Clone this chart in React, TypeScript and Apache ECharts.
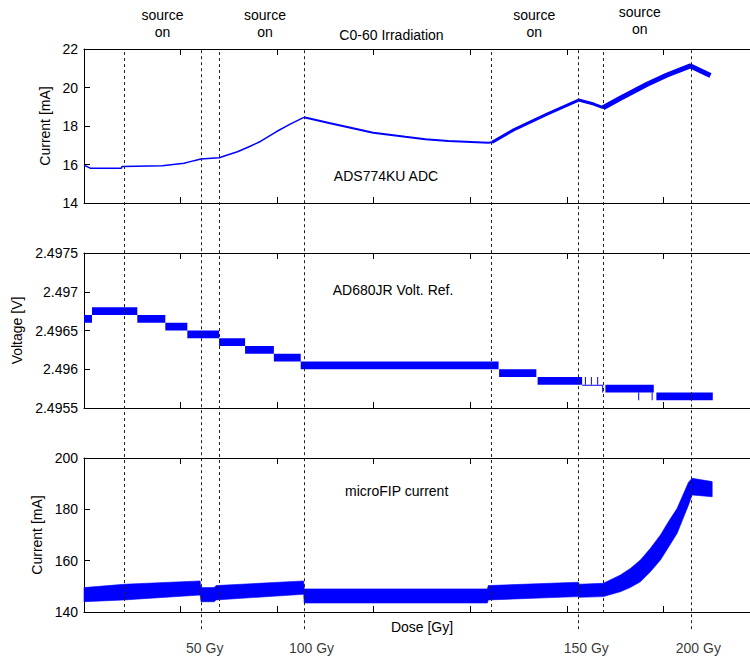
import React, { useEffect, useRef } from "react";
import * as echarts from "echarts";

const FONT = '"Liberation Sans", Arial, Helvetica, sans-serif';
const BLUE = "#0000ff";
const INK = "#000000";

// shared time-like x axis (arbitrary units)
const X_MIN = 0;
const X_MAX = 700;
const X_STEP = 100;

// ---- top panel: ADS774KU ADC current [mA]
const topX = [0, 6.9, 38.7, 39.4, 81.1, 103.6, 114, 120.9, 139.9, 148.5, 158.9, 172.7, 183.1, 199, 213.5, 227.7, 254.9, 299.5, 332.6, 353.4, 377.2, 418.7, 422.5, 444.9, 479.5, 512.2, 527.8, 537.5, 555.4, 583.1, 603.8, 628, 648.7];
const topY = [15.97, 15.8, 15.8, 15.89, 15.93, 16.06, 16.2, 16.29, 16.35, 16.49, 16.66, 16.96, 17.21, 17.7, 18.1, 18.45, 18.14, 17.65, 17.44, 17.31, 17.22, 17.13, 17.15, 17.8, 18.62, 19.35, 19.14, 18.95, 19.44, 20.17, 20.65, 21.12, 20.62];
const topSegments = [[0, 15], [15, 22], [22, 27], [27, 32]];
const topSegWidths = [1.5, 2, 3, 5];

// ---- middle panel: AD680JR reference voltage [V], quantised bands
const vStart = [0, 8.3, 55.2, 84.2, 107, 139.9, 166.8, 196.6, 224.4, 430.4, 469.7, 515.8, 539.9, 592.7];
const vEnd = [8.3, 55.2, 84.2, 107, 139.9, 166.8, 196.6, 224.4, 429.3, 468.4, 515.8, 536.5, 590, 651.1];
const vLow = [2.4966, 2.4967, 2.4966, 2.4965, 2.4964, 2.4963, 2.4962, 2.4961, 2.496, 2.4959, 2.4958, 2.4958, 2.4957, 2.4956];
const vHigh = [2.4967, 2.4968, 2.4967, 2.4966, 2.4965, 2.4964, 2.4963, 2.4962, 2.4961, 2.496, 2.4959, 2.4958, 2.4958, 2.4957];
const spikeX = [430.4, 519.2, 525.4, 531.9, 537.1, 574.4, 588.3];
const spikeLow = [2.4959, 2.4958, 2.4958, 2.4958, 2.4957, 2.4956, 2.4956];
const spikeHigh = [2.496, 2.4959, 2.4959, 2.4959, 2.4958, 2.4957, 2.4957];

// ---- bottom panel: microFIP current [mA], noisy band envelope
const bX = [0, 41.5, 120.2, 121.2, 134.7, 136.8, 227.5, 228, 417.6, 418.7, 511.9, 512.9, 537.8, 555.4, 566, 576.2, 586.5, 596.9, 605.2, 614.2, 626, 629.7, 650.5];
const bUp = [149.5, 150.8, 152.1, 149.5, 149.5, 150.3, 152.1, 149.0, 149.0, 150.3, 151.6, 150.8, 151.2, 154.4, 157.0, 160.3, 164.8, 170.0, 175.2, 180.4, 190.6, 192.1, 190.8];
const bLo = [144.0, 144.7, 146.6, 144.0, 144.0, 144.7, 146.9, 143.5, 143.5, 144.7, 146.0, 145.7, 146.0, 147.9, 149.6, 151.8, 155.7, 160.3, 165.2, 170.7, 181.7, 185.6, 184.9];

// ---- event markers (source on/off) and dose labels
const markerX = [41.5, 121.2, 139.6, 227.7, 422.1, 512.2, 537.8, 628.3];
const markerIsDose = [false, true, false, true, false, true, false, true];
const doseX = [121.2, 227.7, 512.2, 628.3];
const doseLabels = ["50 Gy", "100 Gy", "150 Gy", "200 Gy"];

const GRID_LEFT = 84;
const GRID_W = 676;

function xAxes(gridIndex: number) {
  const base = {
    type: "value",
    gridIndex,
    min: X_MIN,
    max: X_MAX,
    interval: X_STEP,
    axisLine: { show: true, onZero: false, lineStyle: { color: INK, width: 1 } },
    axisTick: { show: true, inside: true, length: 6, lineStyle: { color: INK, width: 1 } },
    axisLabel: { show: false },
    splitLine: { show: false },
  };
  return [
    { ...base, position: "bottom" },
    { ...base, position: "top" },
  ];
}

function yAxis(gridIndex: number, min: number, max: number, interval: number, name: string, nameGap: number, fmt?: (v: number) => string) {
  return {
    type: "value",
    gridIndex,
    min,
    max,
    interval,
    axisLine: { show: true, onZero: false, lineStyle: { color: INK, width: 1 } },
    axisTick: { show: true, inside: true, length: 6, lineStyle: { color: INK, width: 1 } },
    axisLabel: {
      color: INK,
      fontSize: 14,
      fontFamily: FONT,
      margin: 6,
      formatter: fmt || ((v: number) => String(v)),
    },
    splitLine: { show: false },
    name,
    nameLocation: "middle",
    nameRotate: 90,
    nameGap,
    nameTextStyle: { color: INK, fontSize: 14, fontFamily: FONT },
  };
}

function txt(text: string, x: number, y: number) {
  return {
    type: "text",
    x,
    y,
    silent: true,
    style: {
      text,
      fill: INK,
      fontSize: 14,
      fontFamily: FONT,
      align: "center",
      verticalAlign: "middle",
      textAlign: "center",
      textVerticalAlign: "middle",
    },
  };
}

export default function App() {
  const ref = useRef<HTMLDivElement>(null);

  useEffect(() => {
    if (!ref.current) return;
    const chart = echarts.init(ref.current, undefined, { renderer: "svg" });

    const topSeries = topSegments.map(([a, b], k) => ({
      type: "line",
      xAxisIndex: 0,
      yAxisIndex: 0,
      showSymbol: false,
      symbol: "none",
      lineStyle: { color: BLUE, width: topSegWidths[k] },
      data: topX.slice(a, b + 1).map((x, i) => [x, topY[a + i]]),
      z: 3,
    }));

    const gridBase = { left: GRID_LEFT, width: GRID_W, outerBoundsMode: "none", containLabel: false };

    const option: any = {
      animation: false,
      backgroundColor: "#ffffff",
      grid: [
        { ...gridBase, top: 49, height: 154 },
        { ...gridBase, top: 253, height: 155 },
        { ...gridBase, top: 458, height: 154 },
        { ...gridBase, top: 49, height: 600 },
      ],
      xAxis: [
        ...xAxes(0),
        ...xAxes(1),
        ...xAxes(2).map((a, i) =>
          i === 0
            ? {
                ...a,
                name: "Dose [Gy]",
                nameLocation: "middle",
                nameGap: 8,
                nameTextStyle: { color: INK, fontSize: 14, fontFamily: FONT, verticalAlign: "top" },
              }
            : a
        ),
        { type: "value", gridIndex: 3, min: X_MIN, max: X_MAX, show: false },
      ],
      yAxis: [
        yAxis(0, 14, 22, 2, "Current [mA]", 30),
        yAxis(1, 2.4955, 2.4975, 0.0005, "Voltage [V]", 55, (v: number) => String(Number(v.toFixed(4)))),
        yAxis(2, 140, 200, 20, "Current [mA]", 34),
        { type: "value", gridIndex: 3, min: 0, max: 100, show: false },
      ],
      series: [
        ...topSeries,
        {
          type: "custom",
          xAxisIndex: 2,
          yAxisIndex: 1,
          data: vStart.map((s, i) => [s, vEnd[i], vLow[i], vHigh[i]]),
          encode: { x: [0, 1], y: [2, 3] },
          renderItem: (params: any, api: any) => {
            const p0 = api.coord([api.value(0), api.value(3)]);
            const p1 = api.coord([api.value(1), api.value(2)]);
            const h = Math.max(1, p1[1] - p0[1]);
            return {
              type: "rect",
              shape: { x: p0[0], y: p0[1], width: Math.max(1, p1[0] - p0[0]), height: h },
              style: { fill: BLUE },
            };
          },
          z: 3,
        },
        {
          type: "custom",
          xAxisIndex: 2,
          yAxisIndex: 1,
          data: spikeX.map((s, i) => [s, spikeLow[i], spikeHigh[i]]),
          encode: { x: 0, y: [1, 2] },
          renderItem: (params: any, api: any) => {
            const p0 = api.coord([api.value(0), api.value(2)]);
            const p1 = api.coord([api.value(0), api.value(1)]);
            return {
              type: "line",
              shape: { x1: p0[0], y1: p0[1], x2: p1[0], y2: p1[1] },
              style: { stroke: BLUE, lineWidth: 1 },
            };
          },
          z: 3,
        },
        {
          type: "custom",
          xAxisIndex: 4,
          yAxisIndex: 2,
          data: [[bX[0], bLo[0]]],
          renderItem: (params: any, api: any) => {
            const pts: number[][] = [];
            for (let i = 0; i < bX.length; i++) pts.push(api.coord([bX[i], bUp[i]]));
            for (let i = bX.length - 1; i >= 0; i--) pts.push(api.coord([bX[i], bLo[i]]));
            return {
              type: "polygon",
              shape: { points: pts },
              style: { fill: BLUE, stroke: BLUE, lineWidth: 0.6 },
            };
          },
          z: 3,
        },
        {
          type: "scatter",
          xAxisIndex: 6,
          yAxisIndex: 3,
          symbolSize: 0,
          clip: false,
          silent: true,
          data: doseX.map((x) => [x, 0.2]),
          label: {
            show: true,
            position: [-15, 0],
            align: "left",
            verticalAlign: "middle",
            color: INK,
            fontSize: 14,
            fontFamily: FONT,
            formatter: (p: any) => doseLabels[p.dataIndex],
          },
          markLine: {
            silent: true,
            symbol: ["none", "none"],
            label: { show: false },
            lineStyle: { color: "#222222", type: [3, 3], width: 1 },
            data: markerX.map((x, i) => [
              { coord: [x, markerIsDose[i] ? 3.3 : 6] },
              { coord: [x, 100] },
            ]),
          },
          z: 5,
        },
      ],
      graphic: [
        txt("source", 162.5, 15),
        txt("on", 162.5, 32),
        txt("source", 265, 15),
        txt("on", 265, 32),
        txt("C0-60 Irradiation", 391.5, 35),
        txt("source", 534.3, 15),
        txt("on", 534.3, 32),
        txt("source", 639.8, 11.5),
        txt("on", 639.8, 29),
        txt("ADS774KU ADC", 386, 176),
        txt("AD680JR Volt. Ref.", 393, 290),
        txt("microFIP current", 396.7, 491),
      ],
    };

    chart.setOption(option);
    return () => {
      chart.dispose();
    };
  }, []);

  return (
    <div
      ref={ref}
      style={{ position: "absolute", left: 0, top: 0, width: 750, height: 660, background: "#ffffff" }}
    />
  );
}
